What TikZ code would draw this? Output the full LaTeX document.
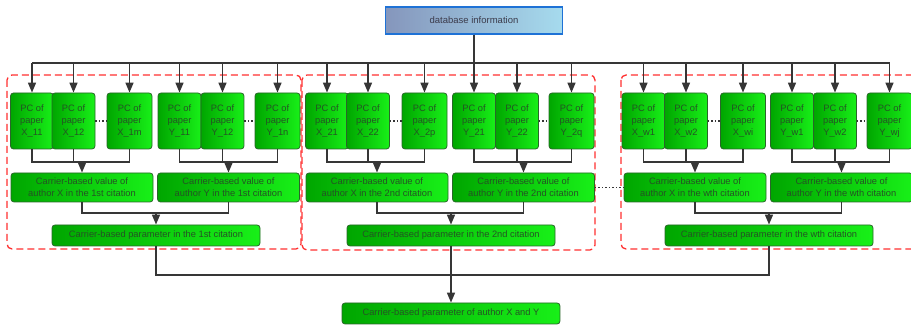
\documentclass[tikz,border=0pt]{standalone}
\usepackage{fontspec}
\setmainfont{Liberation Sans}
\usetikzlibrary{arrows.meta}
\definecolor{gL}{HTML}{00A600}
\definecolor{gR}{HTML}{18F018}
\definecolor{gB}{HTML}{2A662A}
\definecolor{gT}{HTML}{245424}
\definecolor{cC}{HTML}{363636}
\definecolor{dbL}{HTML}{8596BC}
\definecolor{dbR}{HTML}{A6DBEE}
\definecolor{dbB}{HTML}{1E72D6}
\definecolor{dbT}{HTML}{3C3C4C}
\definecolor{grpC}{HTML}{FF3030}
\begin{document}
\begin{tikzpicture}[x=1pt,y=-1pt,
  gbox/.style={draw=gB, line width=0.8pt, rounded corners=3pt, left color=gL, right color=gR,
    text=gT, font=\fontsize{9.3}{12}\selectfont, align=center, inner sep=0pt},
  pcbox/.style={gbox, minimum width=43pt, minimum height=56pt},
  pcwide/.style={pcbox, minimum width=45pt},
  valbox/.style={gbox, minimum width=142pt, minimum height=29pt},
  parbox/.style={gbox, minimum width=208pt, minimum height=21pt},
  conn/.style={draw=cC, line width=1.6pt},
  arr/.style={conn, -{Triangle[width=8pt,length=10pt]}},
  dots/.style={draw=cC, line width=1.2pt, dash pattern=on 1.5pt off 2pt},
  grp/.style={draw=grpC, line width=1.3pt, dash pattern=on 7pt off 4pt, rounded corners=5pt}]
\useasboundingbox (0,0) rectangle (911,328);
\clip (0,0) rectangle (911,328);

% group frames
\draw[grp] (7,75) rectangle (301,249);
\draw[grp] (302,75) rectangle (595,250);
\draw[grp] (621,75) rectangle (918,249);

% top
\node[draw=dbB, line width=1.2pt, left color=dbL, right color=dbR, text=dbT,
  font=\fontsize{9.5}{12}\selectfont, minimum width=177pt, minimum height=27pt, inner sep=0pt]
  (db) at (474,20.5) {database information};

% PC boxes
\node[pcbox]  (x11) at (32,121)    {PC of\\paper\\X\_11};
\node[pcbox]  (x12) at (73.5,121)  {PC of\\paper\\X\_12};
\node[pcwide] (x1m) at (129.5,121) {PC of\\paper\\X\_1m};
\node[pcbox]  (y11) at (179.5,121) {PC of\\paper\\Y\_11};
\node[pcbox]  (y12) at (222.5,121) {PC of\\paper\\Y\_12};
\node[pcwide] (y1n) at (277.5,121) {PC of\\paper\\Y\_1n};

\node[pcbox]  (x21) at (327,121)   {PC of\\paper\\X\_21};
\node[pcbox]  (x22) at (368,121)   {PC of\\paper\\X\_22};
\node[pcwide] (x2p) at (424.5,121) {PC of\\paper\\X\_2p};
\node[pcbox]  (y21) at (474,121)   {PC of\\paper\\Y\_21};
\node[pcbox]  (y22) at (517,121)   {PC of\\paper\\Y\_22};
\node[pcwide] (y2q) at (571.5,121) {PC of\\paper\\Y\_2q};

\node[pcbox]  (xw1) at (643.5,121) {PC of\\paper\\X\_w1};
\node[pcbox]  (xw2) at (686,121)   {PC of\\paper\\X\_w2};
\node[pcwide] (xwi) at (743,121)   {PC of\\paper\\X\_wi};
\node[pcbox]  (yw1) at (792,121)   {PC of\\paper\\Y\_w1};
\node[pcbox]  (yw2) at (835,121)   {PC of\\paper\\Y\_w2};
\node[pcwide] (ywj) at (889.5,121) {PC of\\paper\\Y\_wj};

% value boxes
\node[valbox] (vx1) at (82,187.5)    {Carrier-based value of\\author X in the 1st citation};
\node[valbox] (vy1) at (228.5,187.5) {Carrier-based value of\\author Y in the 1st citation};
\node[valbox] (vx2) at (377,187.5)   {Carrier-based value of\\author X in the 2nd citation};
\node[valbox] (vy2) at (523.5,187.5) {Carrier-based value of\\author Y in the 2nd citation};
\node[valbox] (vxw) at (695,187.5)   {Carrier-based value of\\author X in the wth citation};
\node[valbox] (vyw) at (841.5,187.5) {Carrier-based value of\\author Y in the wth citation};

% parameter boxes
\node[parbox] (p1) at (156,235.5) {Carrier-based parameter in the 1st citation};
\node[parbox] (p2) at (451,235.5) {Carrier-based parameter in the 2nd citation};
\node[parbox] (pw) at (769,235.5) {Carrier-based parameter in the wth citation};

\node[parbox, minimum width=218pt] (fin) at (451,313.5) {Carrier-based parameter of author X and Y};

% bus from database
\coordinate (busy) at (0,63);
\draw[conn] (db.south) -- (db.south |- busy);
\draw[conn] (x11.north |- busy) -- (ywj.north |- busy);
\foreach \n in {x11,x12,x1m,y11,y12,y1n,x21,x22,x2p,y21,y22,y2q,xw1,xw2,xwi,yw1,yw2,ywj}
  \draw[arr] (\n.north |- busy) -- (\n.north);

% PC -> value
\coordinate (ly) at (0,162);
\foreach \a/\b/\c/\v in {x11/x12/x1m/vx1, y11/y12/y1n/vy1, x21/x22/x2p/vx2, y21/y22/y2q/vy2, xw1/xw2/xwi/vxw, yw1/yw2/ywj/vyw}{
  \draw[conn] (\a.south) -- (\a.south |- ly) -- (\c.south |- ly) -- (\c.south);
  \draw[conn] (\b.south) -- (\b.south |- ly);
  \draw[arr] (\v.north |- ly) -- (\v.north);
}

% value -> parameter
\coordinate (my) at (0,213);
\foreach \a/\b/\p in {vx1/vy1/p1, vx2/vy2/p2, vxw/vyw/pw}{
  \draw[conn] (\a.south) -- (\a.south |- my) -- (\b.south |- my) -- (\b.south);
  \draw[arr] (\p.north |- my) -- (\p.north);
}

% parameter -> final
\coordinate (by) at (0,275);
\draw[conn] (p1.south) -- (p1.south |- by) -- (pw.south |- by) -- (pw.south);
\draw[conn] (p2.south) -- (p2.south |- by);
\draw[arr] (fin.north |- by) -- (fin.north);

% dotted ellipses
\foreach \a/\b in {x12/x1m, y12/y1n, x22/x2p, y22/y2q, xw2/xwi, yw2/ywj, vy2/vxw}
  \draw[dots] (\a.east) -- (\b.west);
\end{tikzpicture}
\end{document}
